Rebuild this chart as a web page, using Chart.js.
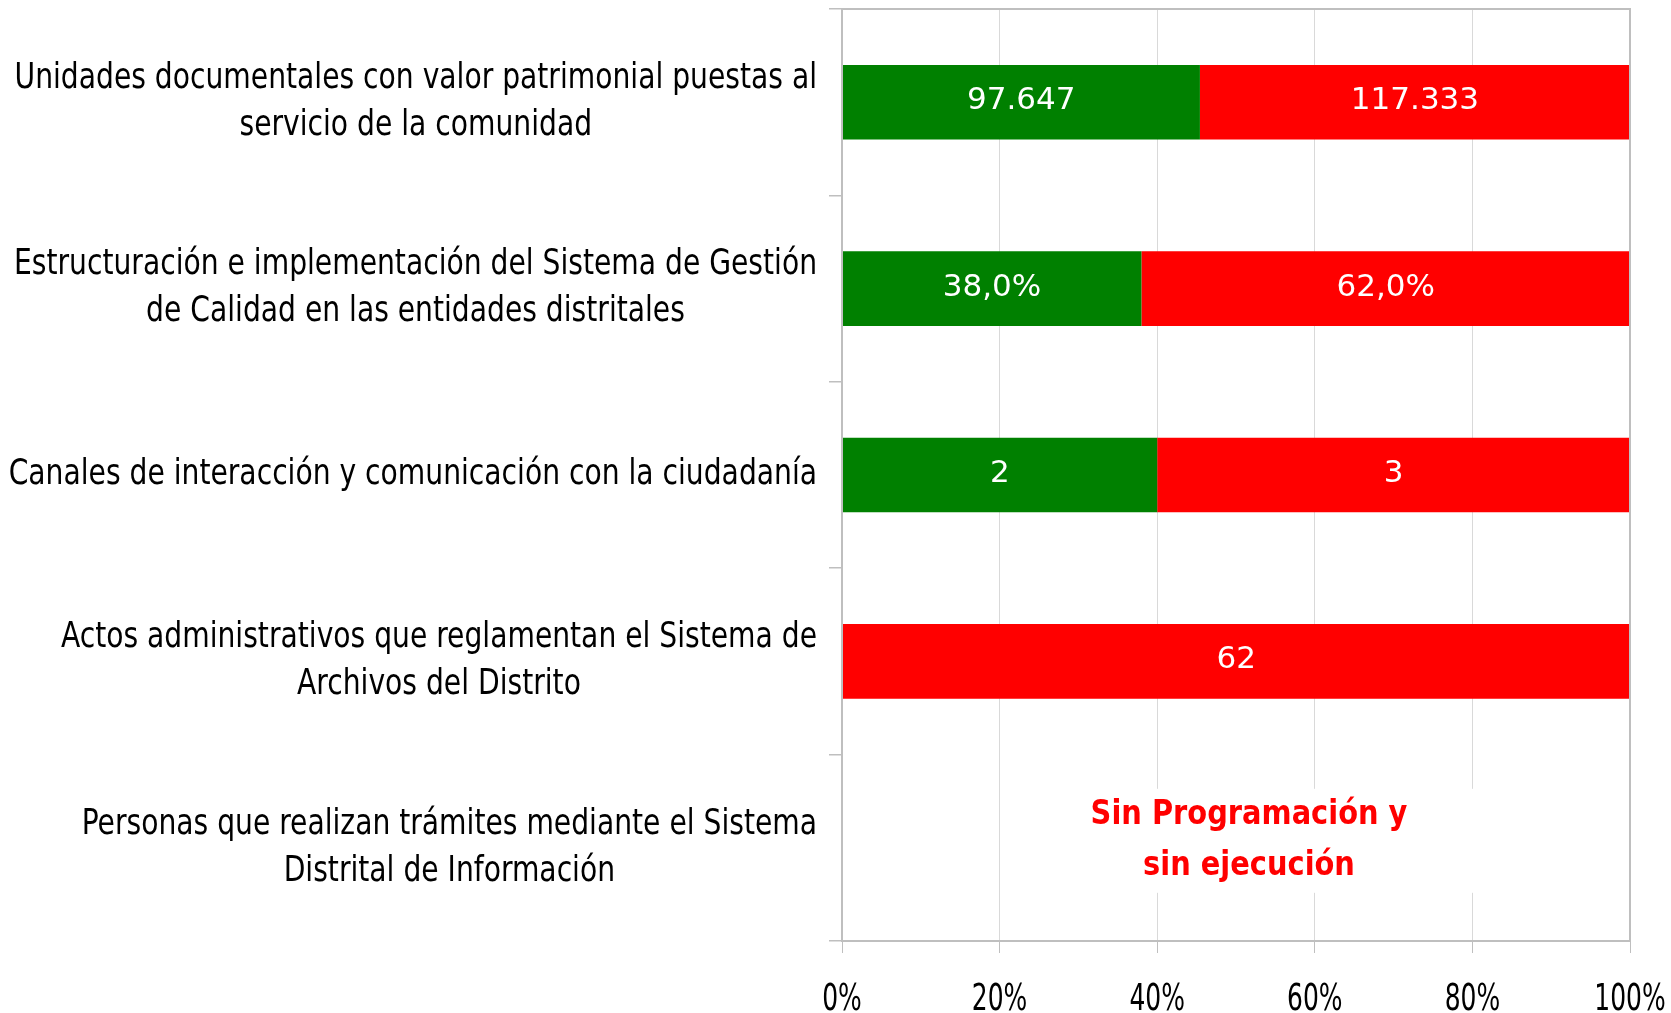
<!DOCTYPE html>
<html lang="es">
<head>
<meta charset="utf-8">
<title>Metas de gestión documental</title>
<script src="https://cdn.jsdelivr.net/npm/chart.js@4.4.1/dist/chart.umd.min.js"></script>
<style>
  html, body { margin: 0; padding: 0; background: #fff; }
  #wrap { width: 1671px; height: 1013px; position: relative; }
</style>
</head>
<body>
<div id="wrap"><canvas id="chart"></canvas></div>
<script>
'use strict';

/* ── Datos ─────────────────────────────────────────────────────────────── */
const categorias = [
  ['Unidades documentales con valor patrimonial puestas al', 'servicio de la comunidad'],
  ['Estructuración e implementación del Sistema de Gestión', 'de Calidad en las entidades distritales'],
  ['Canales de interacción y comunicación con la ciudadanía'],
  ['Actos administrativos que reglamentan el Sistema de', 'Archivos del Distrito'],
  ['Personas que realizan trámites mediante el Sistema', 'Distrital de Información']
];
const ejecutado = [97647, 38.0, 2, 0, 0];
const pendiente = [117333, 62.0, 3, 62, 0];
const formatoFila = ['miles', 'porcentaje', 'entero', 'entero', 'ninguno'];
const ticksX = [0, 20, 40, 60, 80, 100];
const notaSinDatos = ['Sin Programación y', 'sin ejecución'];

/* ── Helpers ───────────────────────────────────────────────────────────── */
const VERDE = '#008000';
const ROJO  = '#FF0000';
const GRIS_EJE = '#bfbfbf';
const GRIS_GRID = '#d9d9d9';
const FUENTE_ANGOSTA = '"Liberation Sans Narrow", "DejaVu Sans Condensed", sans-serif';

function total(i) { return ejecutado[i] + pendiente[i]; }
function pct(arr) { return arr.map((v, i) => total(i) ? v / total(i) * 100 : 0); }

function formatear(v, tipo) {
  if (tipo === 'porcentaje') return v.toFixed(1).replace('.', ',') + '%';
  if (tipo === 'miles') return String(v).replace(/\B(?=(\d{3})+(?!\d))/g, '.');
  return String(v);
}

// texto comprimido en horizontal (imita una fuente angosta)
function textoAngosto(ctx, t, x, y, k) {
  ctx.save();
  ctx.translate(x, y);
  ctx.scale(k, 1);
  ctx.fillText(t, 0, 0);
  ctx.restore();
}

/* ── Plugins ───────────────────────────────────────────────────────────── */
const extras = {
  id: 'extras',
  afterDatasetsDraw(chart) {
    const { ctx, chartArea: a, scales } = chart;

    // borde del área de trazado
    ctx.save();
    ctx.strokeStyle = GRIS_EJE;
    ctx.lineWidth = 2;
    ctx.strokeRect(a.left, a.top, a.right - a.left, a.bottom - a.top);
    ctx.restore();

    // etiquetas de valores dentro de las barras
    const fuentes = [ejecutado, pendiente];
    ctx.save();
    ctx.fillStyle = '#fff';
    ctx.font = '31px "DejaVu Sans", Verdana, sans-serif';
    ctx.textAlign = 'center';
    ctx.textBaseline = 'middle';
    chart.data.datasets.forEach((ds, d) => {
      chart.getDatasetMeta(d).data.forEach((bar, i) => {
        const v = fuentes[d][i];
        if (!v) return;
        const p = bar.getProps(['x', 'y', 'base'], true);
        ctx.fillText(formatear(v, formatoFila[i]), (p.x + p.base) / 2, p.y - 1);
      });
    });
    ctx.restore();

    // nota para la fila sin programación
    categorias.forEach((c, i) => {
      if (total(i)) return;
      const cx = scales.x.getPixelForValue(50) + 13;
      const cy = scales.y.getPixelForValue(i) - 7;
      ctx.save();
      ctx.fillStyle = '#fff';
      ctx.fillRect(cx - 230, cy - 52, 460, 104);
      ctx.fillStyle = ROJO;
      ctx.font = 'bold 33px "DejaVu Sans", Verdana, sans-serif';
      ctx.textAlign = 'center';
      ctx.textBaseline = 'middle';
      notaSinDatos.forEach((t, k) => textoAngosto(ctx, t, cx, cy + (k - (notaSinDatos.length - 1) / 2) * 51, 0.875));
      ctx.restore();
    });
  },
  afterDraw(chart) {
    const { ctx, chartArea: a, scales } = chart;

    // etiquetas de categoría: cada bloque centrado, alineado a la derecha
    const derecha = 817;
    const alto = 47;
    const k = 0.87;
    ctx.save();
    ctx.fillStyle = '#000';
    ctx.font = '36px ' + FUENTE_ANGOSTA;
    ctx.textAlign = 'center';
    ctx.textBaseline = 'middle';
    categorias.forEach((lineas, i) => {
      const ancho = Math.max(...lineas.map(l => ctx.measureText(l).width)) * k;
      const cx = derecha - ancho / 2;
      const cy = scales.y.getPixelForValue(i);
      lineas.forEach((l, n) => textoAngosto(ctx, l, cx, cy + (n - (lineas.length - 1) / 2) * alto, k));
    });

    // etiquetas del eje x
    ctx.font = '37px ' + FUENTE_ANGOSTA;
    ticksX.forEach(v => textoAngosto(ctx, v + '%', scales.x.getPixelForValue(v), a.bottom + 59, 0.75));
    ctx.restore();
  }
};

/* ── Gráfico ───────────────────────────────────────────────────────────── */
new Chart(document.getElementById('chart'), {
  type: 'bar',
  data: {
    labels: categorias,
    datasets: [
      { label: 'Ejecutado', data: pct(ejecutado), backgroundColor: VERDE, barPercentage: 0.4, categoryPercentage: 1 },
      { label: 'Pendiente', data: pct(pendiente), backgroundColor: ROJO, barPercentage: 0.4, categoryPercentage: 1 }
    ]
  },
  options: {
    indexAxis: 'y',
    responsive: true,
    maintainAspectRatio: false,
    animation: false,
    layout: { padding: { left: 829, right: 41, top: 9, bottom: 60 } },
    plugins: { legend: { display: false }, tooltip: { enabled: false } },
    scales: {
      x: {
        stacked: true,
        min: 0,
        max: 100,
        afterBuildTicks: axis => { axis.ticks = ticksX.map(v => ({ value: v })); },
        ticks: { display: false },
        grid: { color: GRIS_GRID, lineWidth: 1, tickLength: 12, tickColor: GRIS_EJE },
        border: { color: GRIS_EJE, width: 2 }
      },
      y: {
        stacked: true,
        ticks: { display: false },
        grid: { drawOnChartArea: false, drawTicks: true, tickLength: 13, color: GRIS_EJE, lineWidth: 1.5 },
        border: { color: GRIS_EJE, width: 2 }
      }
    }
  },
  plugins: [extras]
});
</script>
</body>
</html>
